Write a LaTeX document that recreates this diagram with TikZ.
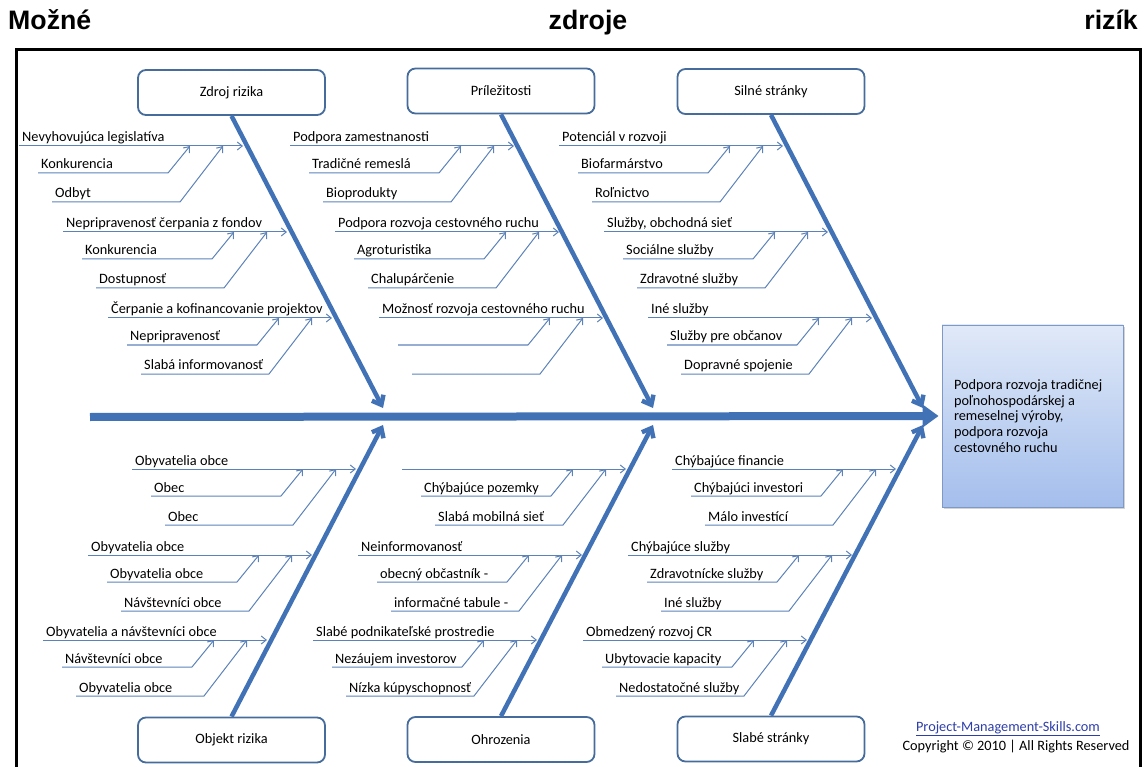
\documentclass[tikz,border=0pt]{standalone}
\usepackage{fontspec}
\setmainfont{Carlito}
\newfontfamily\headfont{Liberation Sans}
\usepackage{xcolor}
\usepackage{tikz}
\usetikzlibrary{arrows.meta,shadows}

\definecolor{bonecol}{RGB}{66,114,182}
\definecolor{twigcol}{RGB}{92,130,184}
\definecolor{boxline}{RGB}{70,108,156}
\definecolor{goalline}{RGB}{128,152,196}
\definecolor{goaltop}{RGB}{224,233,248}
\definecolor{goalbot}{RGB}{164,190,236}
\definecolor{linkcol}{RGB}{45,62,170}

% one rib: id, tip x, line y, main text, upper sub, lower sub
\newcommand{\ribs}[6]{%
  \coordinate (#1-s) at ({#2-224},#3);
  \coordinate (#1-t) at (#2,#3);
  \node[lbl] (#1-m) at ({#2-221},{#3-4}) {#4};
  \draw[twig] (#1-s) -- (#1-t);
  \coordinate (#1-a1) at ({#2-205},{#3+27});
  \coordinate (#1-b1) at ({#2-75},{#3+27});
  \coordinate (#1-c1) at ({#2-53},#3);
  \node[lbl] (#1-n1) at ({#2-202},{#3+23}) {#5};
  \draw[twig] (#1-a1) -- (#1-b1) -- (#1-c1);
  \coordinate (#1-a2) at ({#2-191},{#3+56});
  \coordinate (#1-b2) at ({#2-63},{#3+56});
  \coordinate (#1-c2) at ({#2-20},#3);
  \node[lbl] (#1-n2) at ({#2-188},{#3+52}) {#6};
  \draw[twig] (#1-a2) -- (#1-b2) -- (#1-c2);
}

\begin{document}
\begin{tikzpicture}[x=1pt, y=-1pt, font=\fontsize{14.3}{16}\selectfont,
    lbl/.style={anchor=base west, inner sep=0pt},
    twig/.style={draw=twigcol, line width=1pt, -{Straight Barb[length=5pt,width=8pt]}},
    bone/.style={draw=bonecol, line width=4.5pt, -{Straight Barb[length=8pt,width=13pt]}},
    spine/.style={draw=bonecol, line width=8pt, -{Triangle[length=16pt,width=22pt]}},
    catbox/.style={draw=boxline, line width=1.8pt, rounded corners=8pt, fill=white,
        minimum width=187pt, minimum height=45pt},
    goalbox/.style={draw=goalline, line width=0.8pt, top color=goaltop, bottom color=goalbot,
        drop shadow={shadow xshift=2pt, shadow yshift=-2pt, opacity=0.35},
        minimum height=182pt, text width=157pt, inner xsep=12pt, align=flush left},
    title/.style={inner sep=0pt, font=\headfont\bfseries\fontsize{26.7}{30}\selectfont}]
        \useasboundingbox (0,0) rectangle (1146,767);

        % title
        \node[title, anchor=base west] (t1) at (8,30) {Možné};
        \node[title, anchor=base] (t2) at (588,30) {zdroje};
        \node[title, anchor=base east] (t3) at (1138,30) {rizík};

        % frame
        \draw[line width=3pt] (16.5,772) |- (1140.5,49.5) -- (1140.5,772);

        % goal
        \node[goalbox, font=\fontsize{14.3}{15.7}\selectfont] (goal) at (1032.5,416)
            {Podpora rozvoja tradičnej\\ poľnohospodárskej a\\ remeselnej výroby,\\ podpora rozvoja\\ cestovného ruchu};

        % spine
        \coordinate (spine-s) at (90,417);
        \draw[spine, shorten >=3pt] (spine-s) -- (goal.west);

        % categories
        \node[catbox] (zdroj) at (231.5,92.5) {Zdroj rizika};
        \node[catbox] (prilez) at (501,91) {Príležitosti};
        \node[catbox] (silne) at (771,91.5) {Silné stránky};
        \node[catbox] (objekt) at (231.5,740) {Objekt rizika};
        \node[catbox] (ohroz) at (501,739.5) {Ohrozenia};
        \node[catbox] (slabe) at (771,739) {Slabé stránky};

        % bones
        \coordinate (zdroj-e) at (383,408);
        \coordinate (prilez-e) at (653,408);
        \coordinate (silne-e) at (923,408);
        \coordinate (objekt-e) at (383,425);
        \coordinate (ohroz-e) at (653,425);
        \coordinate (slabe-e) at (923,425);
        \draw[bone] (zdroj.south) -- (zdroj-e);
        \draw[bone] (prilez.south) -- (prilez-e);
        \draw[bone] (silne.south) -- (silne-e);
        \draw[bone] (objekt.north) -- (objekt-e);
        \draw[bone] (ohroz.north) -- (ohroz-e);
        \draw[bone] (slabe.north) -- (slabe-e);

        % Zdroj rizika
        \ribs{zr1}{243}{146}{Nevyhovujúca legislatíva}{Konkurencia}{Odbyt}
        \ribs{zr2}{287}{232}{Nepripravenosť čerpania z fondov}{Konkurencia}{Dostupnosť}
        \ribs{zr3}{332}{318}{Čerpanie a kofinancovanie projektov}{Nepripravenosť}{Slabá informovanosť}
        % Príležitosti
        \ribs{pr1}{514}{146}{Podpora zamestnanosti}{Tradičné remeslá}{Bioprodukty}
        \ribs{pr2}{559}{232}{Podpora rozvoja cestovného ruchu}{Agroturistika}{Chalupárčenie}
        \ribs{pr3}{603}{318}{Možnosť rozvoja cestovného ruchu}{}{}
        % Silné stránky
        \ribs{ss1}{783}{146}{Potenciál v rozvoji}{Biofarmárstvo}{Roľnictvo}
        \ribs{ss2}{828}{232}{Služby, obchodná sieť}{Sociálne služby}{Zdravotné služby}
        \ribs{ss3}{872}{318}{Iné služby}{Služby pre občanov}{Dopravné spojenie}
        % Objekt rizika
        \ribs{or1}{356}{469}{Obyvatelia obce}{Obec}{Obec}
        \ribs{or2}{312}{555}{Obyvatelia obce}{Obyvatelia obce}{Návštevníci obce}
        \ribs{or3}{267}{640}{Obyvatelia a návštevníci obce}{Návštevníci obce}{Obyvatelia obce}
        % Ohrozenia
        \ribs{oh1}{626}{469}{}{Chýbajúce pozemky}{Slabá mobilná sieť}
        \ribs{oh2}{582}{555}{Neinformovanosť}{obecný občastník -}{informačné tabule -}
        \ribs{oh3}{537}{640}{Slabé podnikateľské prostredie}{Nezáujem investorov}{Nízka kúpyschopnosť}
        % Slabé stránky
        \ribs{sl1}{896}{469}{Chýbajúce financie}{Chýbajúci investori}{Málo investící}
        \ribs{sl2}{852}{555}{Chýbajúce služby}{Zdravotnícke služby}{Iné služby}
        \ribs{sl3}{807}{640}{Obmedzený rozvoj CR}{Ubytovacie kapacity}{Nedostatočné služby}

        % copyright
        \node[anchor=base, inner sep=0pt, text=linkcol] (site) at (1008,731) {\underline{Project-Management-Skills.com}};
        \node[anchor=base, inner sep=0pt] (copy) at (1016,750) {Copyright © 2010 | All Rights Reserved};
    \end{tikzpicture}
\end{document}
